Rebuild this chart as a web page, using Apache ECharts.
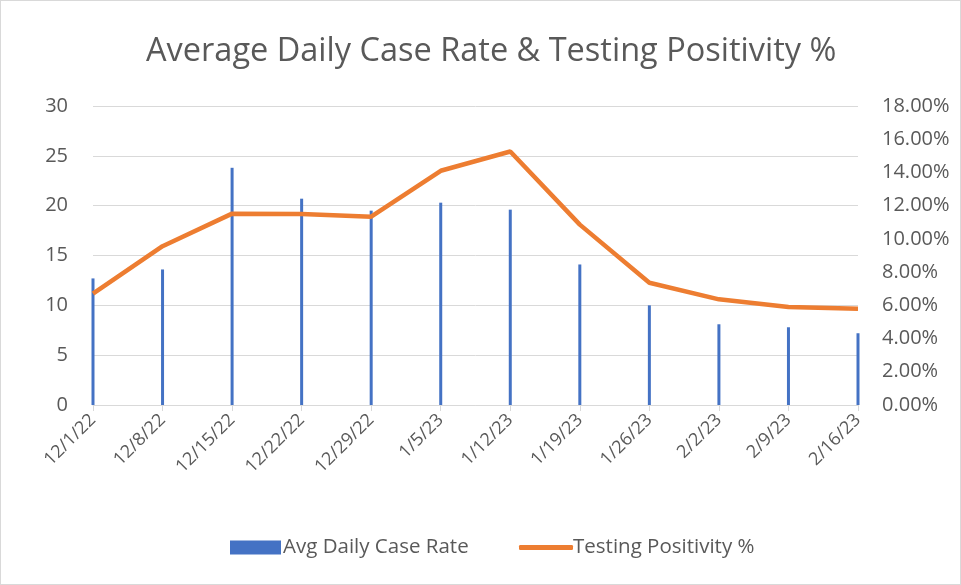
<!DOCTYPE html>
<html>
<head>
<meta charset="utf-8">
<script src="https://cdn.jsdelivr.net/npm/echarts@6/dist/echarts.min.js"></script>
<style>
  html, body { margin: 0; padding: 0; background: #fff; }
  #chart { width: 959px; height: 583px; border: 1px solid #d9d9d9; }
</style>
</head>
<body>
<div id="chart"></div>
<script>
var dates = ["12/1/22", "12/8/22", "12/15/22", "12/22/22", "12/29/22", "1/5/23",
  "1/12/23", "1/19/23", "1/26/23", "2/2/23", "2/9/23", "2/16/23"];
var caseRate = [12.7, 13.6, 23.8, 20.7, 19.5, 20.3, 19.6, 14.1, 10.0, 8.1, 7.8, 7.2];
var positivity = [6.70, 9.56, 11.52, 11.50, 11.34, 14.10, 15.26, 10.86, 7.36, 6.36, 5.90, 5.80];

var font = "Open Sans";
var grey = "#595959";

var myChart = echarts.init(document.getElementById("chart"));
var option = {
  animation: false,
  title: {
    text: "Average Daily Case Rate & Testing Positivity %",
    left: 140,
    top: 29,
    textStyle: { fontFamily: font, fontSize: 32.5, fontWeight: "normal", color: grey },
  },
  grid: { left: 92, right: 102, top: 105, bottom: 179 },
  legend: [
    {
      left: 229,
      top: 536,
      padding: 0,
      itemGap: 0,
      itemWidth: 51,
      itemHeight: 14,
      textStyle: { fontFamily: font, fontSize: 20.5, color: grey, padding: [0, 0, 0, -3] },
      data: [{ name: "Avg Daily Case Rate", icon: "rect" }],
    },
    {
      left: 518,
      top: 536,
      padding: 0,
      itemGap: 0,
      itemWidth: 54,
      itemHeight: 5,
      textStyle: { fontFamily: font, fontSize: 20.5, color: grey, padding: [0, 0, 0, -5] },
      data: [{ name: "Testing Positivity %", icon: "roundRect" }],
    },
  ],
  xAxis: {
    type: "category",
    data: dates,
    boundaryGap: false,
    axisLine: { lineStyle: { color: "#d9d9d9", width: 1 } },
    axisTick: { show: true, length: 6, lineStyle: { color: "#d9d9d9" } },
    axisLabel: {
      rotate: 45,
      interval: 0,
      margin: 12,
      fontFamily: font,
      fontSize: 18,
      color: grey,
    },
  },
  yAxis: [
    {
      type: "value",
      min: 0,
      max: 30,
      interval: 5,
      axisLine: { show: false },
      axisTick: { show: false },
      splitLine: { lineStyle: { color: "#d9d9d9", width: 1 } },
      axisLabel: { margin: 25, fontFamily: font, fontSize: 20, color: grey },
    },
    {
      type: "value",
      min: 0,
      max: 18,
      interval: 2,
      axisLine: { show: false },
      axisTick: { show: false },
      splitLine: { show: false },
      axisLabel: {
        margin: 24,
        fontFamily: font,
        fontSize: 20,
        color: grey,
        formatter: function (v) {
          return v.toFixed(2) + "%";
        },
      },
    },
  ],
  series: [
    {
      name: "Avg Daily Case Rate",
      type: "bar",
      data: caseRate,
      barWidth: 3,
      itemStyle: { color: "#4472C4" },
    },
    {
      name: "Testing Positivity %",
      type: "line",
      yAxisIndex: 1,
      data: positivity,
      symbol: "none",
      lineStyle: { color: "#ED7D31", width: 4.5 },
      itemStyle: { color: "#ED7D31" },
    },
  ],
};

option && myChart.setOption(option);
</script>
</body>
</html>
